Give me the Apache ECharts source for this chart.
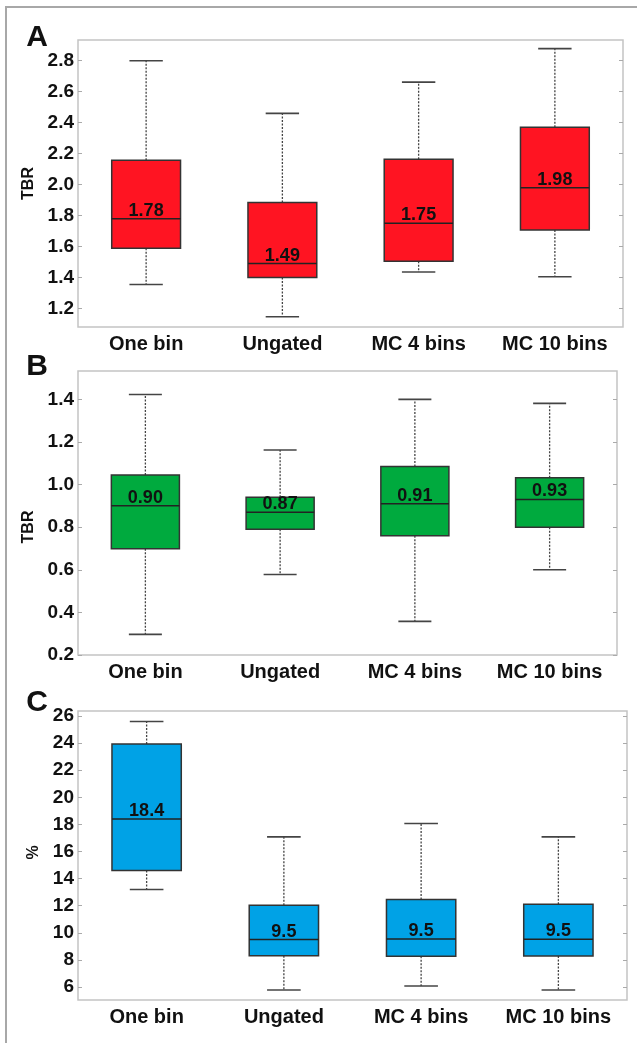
<!DOCTYPE html>
<html>
<head>
<meta charset="utf-8">
<script src="https://cdn.jsdelivr.net/npm/echarts@6/dist/echarts.min.js"></script>
<style>
html,body{margin:0;padding:0;background:#fff;}
#chart{width:637px;height:1043px;}
</style>
</head>
<body>
<div id="chart"></div>
<script>
const categories = ['One bin', 'Ungated', 'MC 4 bins', 'MC 10 bins'];

// Panel A (TBR, red)
const lowA    = [1.355, 1.146, 1.435, 1.405];
const q1A     = [1.588, 1.40, 1.504, 1.706];
const medianA = [1.78, 1.49, 1.75, 1.98];
const q3A     = [2.158, 1.885, 2.164, 2.37];
const highA   = [2.80, 2.46, 2.662, 2.878];
const ticksA  = [1.2, 1.4, 1.6, 1.8, 2.0, 2.2, 2.4, 2.6, 2.8];

// Panel B (TBR, green)
const lowB    = [0.297, 0.578, 0.358, 0.60];
const q1B     = [0.699, 0.79, 0.76, 0.80];
const medianB = [0.90, 0.87, 0.91, 0.93];
const q3B     = [1.045, 0.941, 1.085, 1.032];
const highB   = [1.423, 1.162, 1.40, 1.381];
const ticksB  = [0.2, 0.4, 0.6, 0.8, 1.0, 1.2, 1.4];

// Panel C (%, blue)
const lowC    = [13.2, 5.78, 6.07, 5.78];
const q1C     = [14.6, 8.31, 8.26, 8.29];
const medianC = [18.4, 9.5, 9.54, 9.52];
const q3C     = [23.94, 12.04, 12.46, 12.1];
const highC   = [25.59, 17.08, 18.07, 17.08];
const ticksC  = [6, 8, 10, 12, 14, 16, 18, 20, 22, 24, 26];

const FONT = "'Liberation Sans', Arial, sans-serif";
const TXT = '#111';

function rows(low, q1, med, q3, high) {
  return categories.map((c, i) => [i, low[i], q1[i], med[i], q3[i], high[i]]);
}

function makeRender(fill, digits) {
  return function (params, api) {
    const x = api.value(0);
    const low = api.coord([x, api.value(1)]);
    const q1 = api.coord([x, api.value(2)]);
    const med = api.coord([x, api.value(3)]);
    const q3 = api.coord([x, api.value(4)]);
    const high = api.coord([x, api.value(5)]);
    const band = api.size([1, 0])[0];
    const bw = band * 0.505, cw = band * 0.245;
    const cx = med[0];
    const dash = { stroke: '#444', lineWidth: 1.3, lineDash: [2, 1.5] };
    const solid = { stroke: '#444', lineWidth: 1.6 };
    return {
      type: 'group',
      children: [
        { type: 'line', shape: { x1: cx, y1: q1[1], x2: cx, y2: low[1] }, style: dash },
        { type: 'line', shape: { x1: cx, y1: q3[1], x2: cx, y2: high[1] }, style: dash },
        { type: 'line', shape: { x1: cx - cw / 2, y1: low[1], x2: cx + cw / 2, y2: low[1] }, style: solid },
        { type: 'line', shape: { x1: cx - cw / 2, y1: high[1], x2: cx + cw / 2, y2: high[1] }, style: solid },
        { type: 'rect', shape: { x: cx - bw / 2, y: q3[1], width: bw, height: q1[1] - q3[1] },
          style: { fill: fill, stroke: '#333', lineWidth: 1.5 } },
        { type: 'line', shape: { x1: cx - bw / 2, y1: med[1], x2: cx + bw / 2, y2: med[1] },
          style: { stroke: '#222', lineWidth: 1.5 } },
        { type: 'text', style: { x: cx, y: med[1] - 8, text: api.value(3).toFixed(digits),
            font: 'bold 18px ' + FONT, fill: TXT, textAlign: 'center', textVerticalAlign: 'middle' } }
      ]
    };
  };
}

const grids = [
  { left: 78, top: 40, width: 545, height: 287 },
  { left: 78, top: 371, width: 539, height: 284 },
  { left: 78, top: 711, width: 549, height: 289 }
].map(g => Object.assign(g, { show: true, borderColor: '#c4c4c4', borderWidth: 1.5, backgroundColor: '#fff' }));

const ranges = [
  { min: 1.08, max: 2.934, ticks: ticksA, dec: 1, name: 'TBR', gap: 35, pad: [0, 0, 0, 0] },
  { min: 0.2, max: 1.533, ticks: ticksB, dec: 1, name: 'TBR', gap: 40, pad: [0, 28, 0, 0] },
  { min: 5.04, max: 26.37, ticks: ticksC, dec: 0, name: '%', gap: 31, pad: [0, 0, 0, 6] }
];

const xAxes = grids.map((g, i) => ({
  type: 'category', gridIndex: i, data: categories,
  axisLine: { show: false }, axisTick: { show: false },
  axisLabel: { interval: 0, hideOverlap: false, color: TXT, fontFamily: FONT, fontWeight: 'bold', fontSize: 20, margin: 7 }
}));

const yAxes = [];
ranges.forEach((r, i) => {
  yAxes.push({
    type: 'value', gridIndex: i, min: r.min, max: r.max, position: 'left',
    name: r.name, nameLocation: 'middle', nameGap: r.gap,
    nameTextStyle: { color: TXT, fontFamily: FONT, fontWeight: 'bold', fontSize: 16, padding: r.pad },
    splitLine: { show: false }, axisLine: { show: false },
    axisTick: { show: true, inside: true, length: 4, customValues: r.ticks, lineStyle: { color: '#aaa' } },
    axisLabel: { customValues: r.ticks, color: TXT, fontFamily: FONT, fontWeight: 'bold', fontSize: 19, margin: 4,
      formatter: v => Number(v).toFixed(r.dec) }
  });
  yAxes.push({
    type: 'value', gridIndex: i, min: r.min, max: r.max, position: 'right',
    splitLine: { show: false }, axisLine: { show: false },
    axisTick: { show: true, inside: true, length: 4, customValues: r.ticks, lineStyle: { color: '#aaa' } },
    axisLabel: { show: false }
  });
});

const series = [
  { data: rows(lowA, q1A, medianA, q3A, highA), fill: '#FF1422', digits: 2 },
  { data: rows(lowB, q1B, medianB, q3B, highB), fill: '#00AA3E', digits: 2 },
  { data: rows(lowC, q1C, medianC, q3C, highC), fill: '#00A2E6', digits: 1 }
].map((s, i) => ({
  type: 'custom', xAxisIndex: i, yAxisIndex: i * 2,
  encode: { x: 0, y: [1, 2, 3, 4, 5] },
  renderItem: makeRender(s.fill, s.digits),
  data: s.data, silent: true
}));

const panelLetters = [['A', 37.5], ['B', 367], ['C', 703]];

const chart = echarts.init(document.getElementById('chart'), null, { renderer: 'canvas' });
chart.setOption({
  animation: false,
  backgroundColor: '#fff',
  grid: grids,
  xAxis: xAxes,
  yAxis: yAxes,
  series: series,
  graphic: [
    { type: 'rect', shape: { x: 6, y: 7, width: 700, height: 1100 }, style: { fill: 'none', stroke: '#a8a8a8', lineWidth: 2 }, z: -1 }
  ].concat(panelLetters.map(p => ({
    type: 'text', x: 37, y: p[1],
    style: { text: p[0], font: 'bold 30px ' + FONT, fill: TXT, textAlign: 'center', textVerticalAlign: 'middle' }
  })))
});
</script>
</body>
</html>
